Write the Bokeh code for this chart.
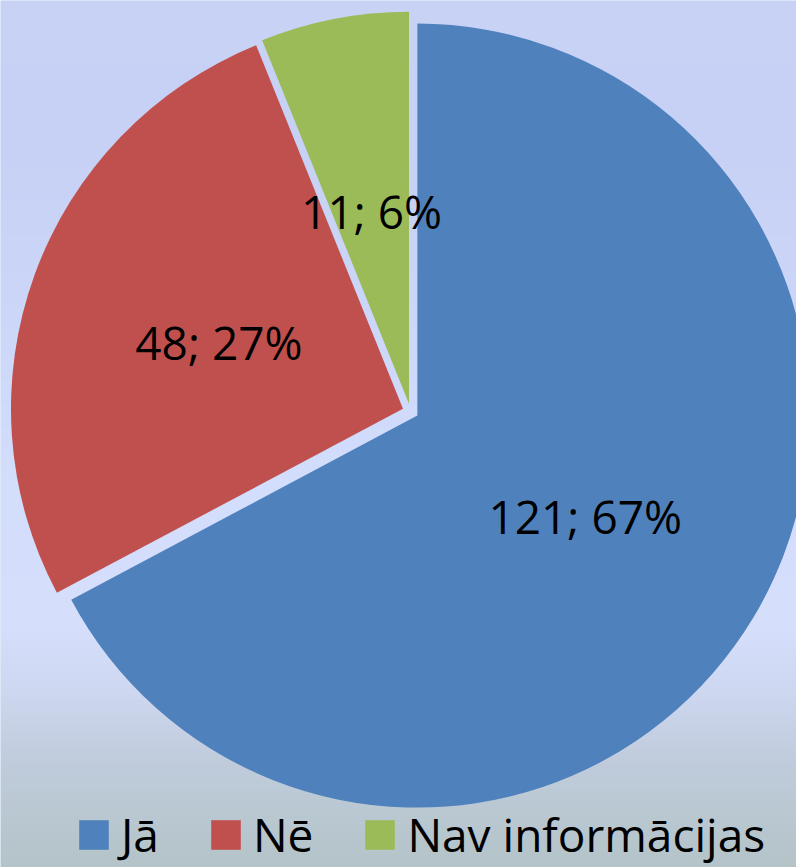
import numpy as np
from bokeh.plotting import figure
from bokeh.models import Range1d, ColumnDataSource, Legend, LegendItem
from bokeh.core.properties import value
from bokeh.embed import file_html
from bokeh.resources import INLINE

# ---- data ----
categories = ["Jā", "Nē", "Nav informācijas"]
counts = [121, 48, 11]
colors = ["#4f81bd", "#c0504d", "#9bbb59"]

# ---- layout / style constants ----
W, H = 796, 867            # canvas (data units = pixels, y up)
CX, CY = 410, H - 411      # pie centre
R = 392                    # radius
EXPLODE = 8                # explode distance
LABEL_R = 0.52             # label distance as fraction of radius
FONT = "Open Sans"

# background gradient stops (fraction from top, rgb)
GRAD_T = [0.00, 0.15, 0.35, 0.55, 0.72, 0.80, 0.88, 1.00]
GRAD_R = [201, 199, 204, 211, 214, 205, 192, 180]
GRAD_G = [211, 209, 214, 221, 224, 215, 204, 196]
GRAD_B = [245, 245, 248, 252, 253, 240, 220, 200]

total = sum(counts)
fracs = np.array(counts) / total
cum = np.concatenate([[0.0], np.cumsum(fracs)])
start_cw = cum[:-1] * 2 * np.pi
end_cw = cum[1:] * 2 * np.pi
mid_cw = (start_cw + end_cw) / 2
ux, uy = np.sin(mid_cw), np.cos(mid_cw)

src = ColumnDataSource(dict(
    x=CX + EXPLODE * ux,
    y=CY + EXPLODE * uy,
    start=np.pi / 2 - start_cw,
    end=np.pi / 2 - end_cw,
    color=colors,
    category=categories,
    label=[f"{c}; {round(100 * f)}%" for c, f in zip(counts, fracs)],
    lx=CX + LABEL_R * R * ux,
    ly=CY + LABEL_R * R * uy,
))

p = figure(width=W, height=H, x_range=Range1d(0, W), y_range=Range1d(0, H),
           output_backend="svg", toolbar_location=None, min_border=0)
p.axis.visible = False
p.grid.visible = False
p.outline_line_color = None
p.background_fill_color = "#cfd9f8"
p.border_fill_color = "#cfd9f8"

# gradient background
rows = (np.arange(H) + 0.5) / H
img = np.zeros((H, 2), dtype=np.uint32)
view = img.view(dtype=np.uint8).reshape((H, 2, 4))
for k, ch in enumerate([GRAD_R, GRAD_G, GRAD_B]):
    view[:, :, k] = np.interp(rows, GRAD_T, ch).astype(np.uint8)[:, None]
view[:, :, 3] = 255
p.image_rgba(image=[img[::-1]], x=0, y=0, dw=W, dh=H)

wedges = p.wedge(x="x", y="y", radius=R, start_angle="start", end_angle="end",
                 direction="clock", fill_color="color", line_color=None, source=src)

p.text(x="lx", y="ly", text="label", source=src, text_align="center",
       text_baseline="middle", text_font=value(FONT), text_font_size="46px",
       text_color="black")

legend = Legend(items=[LegendItem(label=categories[i], renderers=[wedges], index=i)
                       for i in range(len(categories))],
                orientation="horizontal", location=(75, 2),
                glyph_width=37, glyph_height=37, label_standoff=9, spacing=48,
                padding=0, margin=0, border_line_color=None, background_fill_alpha=0,
                label_text_font=FONT, label_text_font_size="46px",
                label_text_color="black")
p.add_layout(legend)

open("out.html", "w").write(file_html(p, INLINE))
